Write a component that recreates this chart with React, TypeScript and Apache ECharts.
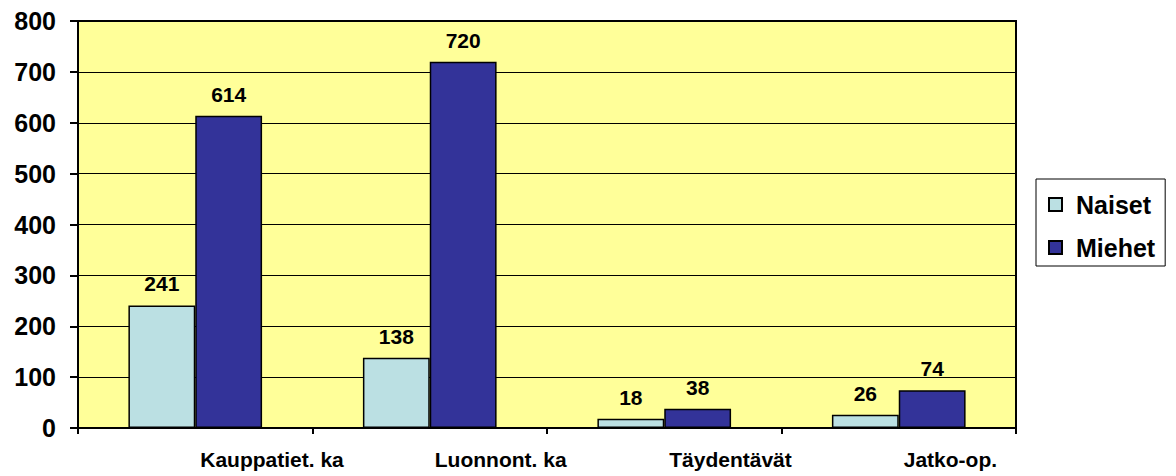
import React, { useEffect, useRef } from "react";
import * as echarts from "echarts";

const categories = ["Kauppatiet. ka", "Luonnont. ka", "Täydentävät", "Jatko-op."];
const naiset = [241, 138, 18, 26];
const miehet = [614, 720, 38, 74];
const yTicks = { min: 0, max: 800, interval: 100 };

const FONT = '"Liberation Sans", Arial, sans-serif';

export default function App() {
  const ref = useRef<HTMLDivElement>(null);
  useEffect(() => {
    if (!ref.current) return;
    const chart = echarts.init(ref.current, null, { renderer: "svg" });
    const labelStyle = {
      show: true,
      position: "top",
      distance: 11,
      color: "#000",
      fontFamily: FONT,
      fontWeight: "bold",
      fontSize: 21,
    };
    chart.setOption({
      animation: false,
      backgroundColor: "#ffffff",
      textStyle: { fontFamily: FONT },
      grid: {
        left: 78,
        right: 160,
        top: 21,
        bottom: 48,
        show: true,
        backgroundColor: "#FFFF99",
        borderColor: "#000",
        borderWidth: 2,
        outerBoundsMode: "none",
      },
      legend: {
        orient: "vertical",
        left: 1036,
        top: 179,
        padding: [13, 10, 6, 12],
        itemGap: 18,
        itemWidth: 13,
        itemHeight: 13,
        borderColor: "#000",
        borderWidth: 1,
        backgroundColor: "#fff",
        icon: "rect",
        textStyle: {
          fontFamily: FONT,
          fontWeight: "bold",
          fontSize: 25,
          color: "#000",
          lineHeight: 25,
          padding: [0, 0, 0, 9],
        },
      },
      xAxis: {
        type: "category",
        data: categories,
        boundaryGap: true,
        axisLine: { lineStyle: { color: "#000", width: 2 } },
        axisTick: { show: true, length: 6, lineStyle: { color: "#000", width: 2 } },
        axisLabel: {
          color: "#000",
          fontFamily: FONT,
          fontWeight: "bold",
          fontSize: 21,
          margin: 21,
          align: "left",
          padding: [0, 0, 0, 5],
          interval: 0,
        },
      },
      yAxis: {
        type: "value",
        min: yTicks.min,
        max: yTicks.max,
        interval: yTicks.interval,
        axisLine: { show: true, lineStyle: { color: "#000", width: 2 } },
        axisTick: { show: true, length: 8, lineStyle: { color: "#000", width: 2 } },
        splitLine: { show: true, lineStyle: { color: "#000", width: 1 } },
        axisLabel: {
          color: "#000",
          fontFamily: FONT,
          fontWeight: "bold",
          fontSize: 25,
          margin: 22,
        },
      },
      series: [
        {
          name: "Naiset",
          type: "bar",
          data: naiset,
          barGap: "0%",
          barCategoryGap: "43%",
          itemStyle: { color: "#BBE0E3", borderColor: "#000", borderWidth: 1.5 },
          label: labelStyle,
        },
        {
          name: "Miehet",
          type: "bar",
          data: miehet,
          barGap: "0%",
          barCategoryGap: "43%",
          itemStyle: { color: "#333399", borderColor: "#000", borderWidth: 1.5 },
          label: labelStyle,
        },
      ],
    });
    return () => chart.dispose();
  }, []);
  return (
    <div
      ref={ref}
      style={{ position: "fixed", left: 0, top: 0, width: 1176, height: 476 }}
    />
  );
}
